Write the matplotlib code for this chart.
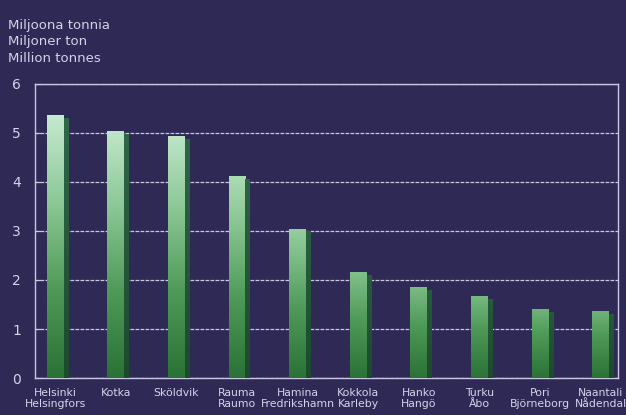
import matplotlib.pyplot as plt
import numpy as np
from matplotlib.colors import LinearSegmentedColormap

# dados
portos = ["Helsinki\nHelsingfors", "Kotka", "Sköldvik", "Rauma\nRaumo", "Hamina\nFredrikshamn",
          "Kokkola\nKarleby", "Hanko\nHangö", "Turku\nÅbo", "Pori\nBjörneborg", "Naantali\nNådendal"]
milhoes_ton = [5.35, 5.02, 4.92, 4.10, 3.03, 2.15, 1.84, 1.66, 1.39, 1.35]
ticks_y = [0, 1, 2, 3, 4, 5, 6]

# cores
fundo = "#2e2a55"
texto = "#d4d2ea"
linha = "#c9c6e2"
frente = LinearSegmentedColormap.from_list("frente", ["#2b7236", "#4f9a58", "#8cc896", "#c6ead0"])
lado = LinearSegmentedColormap.from_list("lado", ["#1c4a2c", "#25593a", "#2f6848"])

fig = plt.figure(figsize=(6.26, 4.15), dpi=100, facecolor=fundo)
ax = fig.add_axes([0.056, 0.089, 0.931, 0.709], facecolor=fundo)

x = np.arange(len(portos))
larg = 0.28
larg_lado = 0.08
for xi, v in zip(x, milhoes_ton):
    topo = 0.35 + 0.65 * v / 5.4
    grad = np.linspace(0, topo, 100).reshape(-1, 1)
    # face da frente
    ax.imshow(grad, extent=[xi - larg / 2, xi + larg / 2, 0, v], origin="lower",
              aspect="auto", cmap=frente, vmin=0, vmax=1, zorder=3)
    # lado escuro
    ax.imshow(grad, extent=[xi + larg / 2, xi + larg / 2 + larg_lado, 0, v - 0.05], origin="lower",
              aspect="auto", cmap=lado, vmin=0, vmax=1, zorder=3)

ax.set_xlim(-0.33, 9.28)
ax.set_ylim(0, 6)
ax.set_yticks(ticks_y)
ax.set_xticks(x)
ax.set_xticklabels(portos, color=texto, fontsize=7.8, linespacing=1.2)
ax.tick_params(axis="x", length=0, pad=7)
ax.tick_params(axis="y", direction="in", length=4, color=linha, labelcolor=texto, labelsize=10, pad=10)
ax.grid(axis="y", color=linha, linestyle=(0, (3, 1)), linewidth=0.9, zorder=1)
for s in ax.spines.values():
    s.set_color(linha)
    s.set_linewidth(1.0)

fig.text(0.013, 0.955, "Miljoona tonnia\nMiljoner ton\nMillion tonnes", color=texto,
         fontsize=9.5, va="top", ha="left", linespacing=1.35)

fig.savefig("out.png", dpi=100, facecolor=fundo)
